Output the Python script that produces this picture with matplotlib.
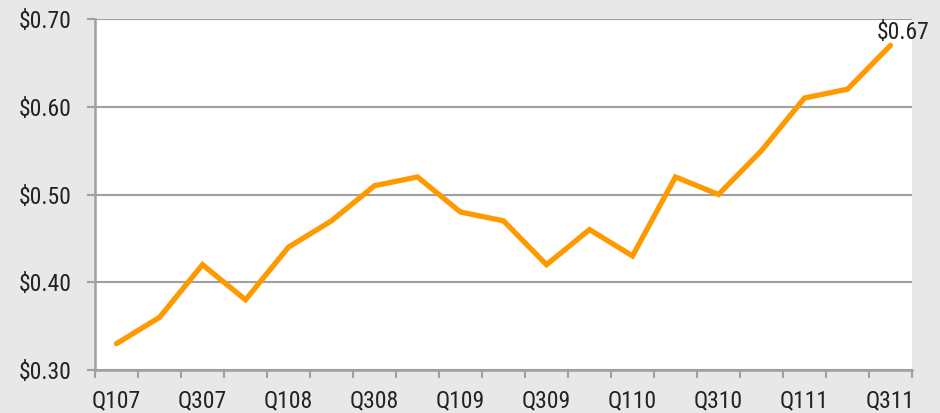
import matplotlib
matplotlib.use("Agg")
import matplotlib.pyplot as plt
from matplotlib import font_manager

quarters = ["Q107", "Q207", "Q307", "Q407", "Q108", "Q208", "Q308", "Q408",
            "Q109", "Q209", "Q309", "Q409", "Q110", "Q210", "Q310", "Q410",
            "Q111", "Q211", "Q311"]
values = [0.33, 0.36, 0.42, 0.38, 0.44, 0.47, 0.51, 0.52,
          0.48, 0.47, 0.42, 0.46, 0.43, 0.52, 0.50, 0.55,
          0.61, 0.62, 0.67]
yticks = [0.30, 0.40, 0.50, 0.60, 0.70]
ytick_labels = ["$0.30", "$0.40", "$0.50", "$0.60", "$0.70"]
end_label = "$0.67"

# find a condensed / narrow font if installed
cands = []
for f in font_manager.fontManager.ttflist:
    fn = f.fname.lower()
    if ("narrow" in fn or "condensed" in fn) and "bold" not in fn and "italic" not in fn \
            and "oblique" not in fn and "light" not in fn and "mono" not in fn and "serif" not in fn.replace("sans", ""):
        cands.append(f.fname)
cands.sort(key=lambda p: (0 if "liberation" in p.lower() else 1 if "roboto" in p.lower() else 2 if "dejavu" in p.lower() else 3))
FS = 17
if cands:
    fp = font_manager.FontProperties(fname=cands[0], size=FS)
else:
    fp = font_manager.FontProperties(family="DejaVu Sans", size=FS)

bg = "#e8e8e8"
fig = plt.figure(figsize=(9.4, 4.13), dpi=100, facecolor=bg)
ax = fig.add_axes([95/940, 1 - 370/413, (912-95)/940, (370-19)/413])
ax.set_facecolor("white")

x = list(range(len(quarters)))
ax.plot(x, values, color="#ff9900", lw=3.8, solid_capstyle="round",
        solid_joinstyle="miter", zorder=3)
ax.set_xlim(-0.5, len(quarters) - 0.5)
ax.set_ylim(0.30, 0.70)

ax.set_yticks(yticks)
ax.set_yticklabels(ytick_labels, fontproperties=fp, color="#222222")
ax.yaxis.grid(True, color="#a0a0a0", lw=1.5)
ax.set_axisbelow(True)

ax.set_xticks([i + 0.5 for i in range(-1, len(quarters))], minor=False)
ax.set_xticklabels([])
ax.set_xticks(x[::2], minor=True)
ax.set_xticklabels(quarters[::2], minor=True, fontproperties=fp, color="#222222")
ax.tick_params(axis="x", which="minor", length=0, pad=14)
ax.tick_params(axis="x", which="major", length=6, width=1.5, color="#a0a0a0", direction="out")
ax.tick_params(axis="y", length=6, width=1.5, color="#a0a0a0", pad=11)

for s in ["top", "right"]:
    ax.spines[s].set_visible(False)
for s in ["left", "bottom"]:
    ax.spines[s].set_color("#a0a0a0")
    ax.spines[s].set_linewidth(1.8)

ax.annotate(end_label, (x[-1], values[-1]), xytext=(9, 1), textcoords="offset points",
            ha="center", va="bottom", fontproperties=fp, color="#222222", annotation_clip=False)

fig.savefig("out.png", dpi=100, facecolor=bg)
